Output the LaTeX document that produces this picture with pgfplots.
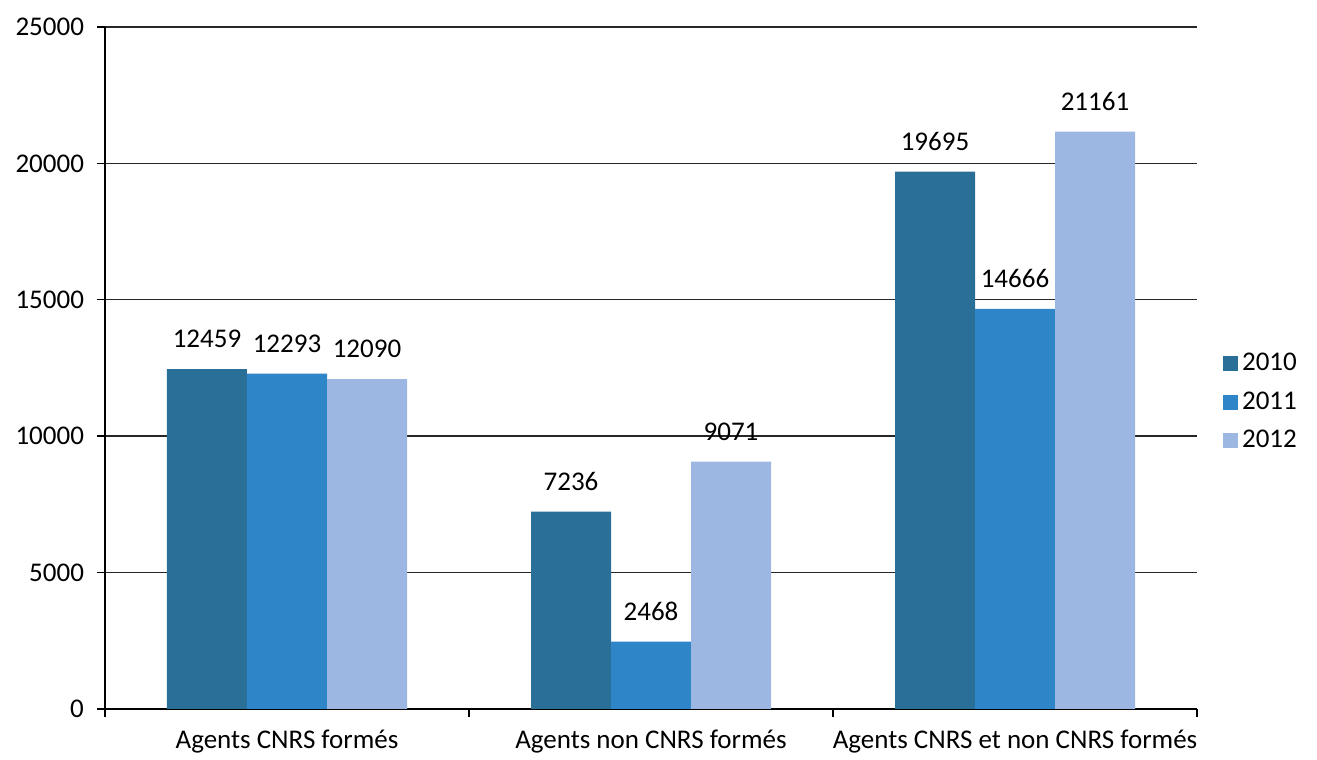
\documentclass[border=0pt]{standalone}
\usepackage{pgfplots}
\pgfplotsset{compat=1.18}
\usepackage{fontspec}
\setmainfont{Carlito}
\definecolor{c2010}{HTML}{2A6F97}
\definecolor{c2011}{HTML}{2E86C8}
\definecolor{c2012}{HTML}{9DB7E3}
\begin{document}
\begin{tikzpicture}
\begin{axis}[
  scale only axis,
  width=546pt, height=341pt,
  font=\fontsize{13.5pt}{16pt}\selectfont,
  /pgf/number format/assume math mode=true,
  /pgf/number format/1000 sep={},
  ybar=0pt, bar width=40pt,
  xmin=-0.5, xmax=2.5,
  ymin=0, ymax=25000,
  ytick={0,5000,...,25000},
  scaled y ticks=false,
  yticklabel style={xshift=-3pt},
  xtick={-0.5,0.5,1.5,2.5},
  xticklabels={},
  extra x ticks={0,1,2},
  extra x tick labels={Agents CNRS formés, Agents non CNRS formés, Agents CNRS et non CNRS formés},
  extra x tick style={major tick length=0pt, xticklabel style={yshift=-7pt}},
  axis x line*=bottom, axis y line*=left,
  axis line style={line width=0.7pt, -},
  every tick/.style={black, line width=0.7pt},
  tick align=outside,
  major tick length=4pt,
  ymajorgrids, xmajorgrids=false,
  major grid style={black!85, line width=0.7pt},
  nodes near coords,
  every node near coord/.append style={yshift=7pt, font=\fontsize{13.5pt}{16pt}\selectfont},
  legend style={at={(1.018,0.45)}, anchor=west, draw=none, fill=none,
    row sep=5pt, font=\fontsize{13.5pt}{16pt}\selectfont},
  legend cell align=left,
  legend image code/.code={\fill[#1] (0pt,-3.75pt) rectangle (7.5pt,3.75pt);},
]
\addplot[fill=c2010, draw=none] coordinates {(0,12459) (1,7236) (2,19695)};
\addplot[fill=c2011, draw=none] coordinates {(0,12293) (1,2468) (2,14666)};
\addplot[fill=c2012, draw=none] coordinates {(0,12090) (1,9071) (2,21161)};
\legend{2010,2011,2012}
\end{axis}
\path (-52.5pt,-23pt) rectangle (606pt,354.5pt);
\end{tikzpicture}
\end{document}
